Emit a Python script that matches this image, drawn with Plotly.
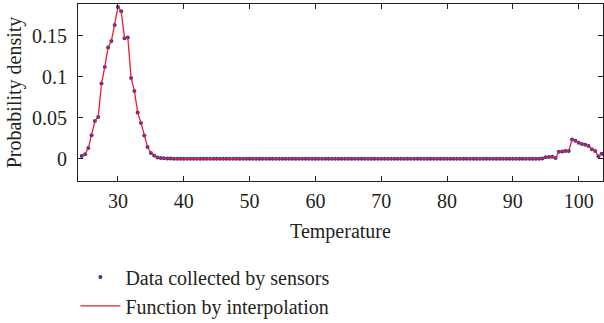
import plotly.graph_objects as go

temperature = [
    24.5, 25.0, 25.5, 26.0, 26.5, 27.0, 27.5, 28.0, 28.5, 29.0,
    29.5, 30.0, 30.5, 31.0, 31.5, 32.0, 32.5, 33.0, 33.5, 34.0,
    34.5, 35.0, 35.5, 36.0, 36.5, 37.0, 37.5, 38.0, 38.5, 39.0,
    39.5, 40.0, 40.5, 41.0, 41.5, 42.0, 42.5, 43.0, 43.5, 44.0,
    44.5, 45.0, 45.5, 46.0, 46.5, 47.0, 47.5, 48.0, 48.5, 49.0,
    49.5, 50.0, 50.5, 51.0, 51.5, 52.0, 52.5, 53.0, 53.5, 54.0,
    54.5, 55.0, 55.5, 56.0, 56.5, 57.0, 57.5, 58.0, 58.5, 59.0,
    59.5, 60.0, 60.5, 61.0, 61.5, 62.0, 62.5, 63.0, 63.5, 64.0,
    64.5, 65.0, 65.5, 66.0, 66.5, 67.0, 67.5, 68.0, 68.5, 69.0,
    69.5, 70.0, 70.5, 71.0, 71.5, 72.0, 72.5, 73.0, 73.5, 74.0,
    74.5, 75.0, 75.5, 76.0, 76.5, 77.0, 77.5, 78.0, 78.5, 79.0,
    79.5, 80.0, 80.5, 81.0, 81.5, 82.0, 82.5, 83.0, 83.5, 84.0,
    84.5, 85.0, 85.5, 86.0, 86.5, 87.0, 87.5, 88.0, 88.5, 89.0,
    89.5, 90.0, 90.5, 91.0, 91.5, 92.0, 92.5, 93.0, 93.5, 94.0,
    94.5, 95.0, 95.5, 96.0, 96.5, 97.0, 97.5, 98.0, 98.5, 99.0,
    99.5, 100.0, 100.5, 101.0, 101.5, 102.0, 102.5, 103.0, 103.5,
]

density = [
    # 24.5 - 36.0
    0.0034, 0.0055, 0.013, 0.0287, 0.046, 0.051, 0.0917, 0.112, 0.1356, 0.1437,
    0.163, 0.185, 0.180, 0.147, 0.148, 0.0985, 0.0827, 0.0563, 0.0437, 0.0283,
    0.0144, 0.007, 0.004, 0.0015,
    # 36.5 - 38.0
    0.001, 0.0007, 0.0004, 0.0002,
    # 38.5 - 94.5
    0, 0, 0, 0, 0, 0, 0, 0, 0, 0, 0, 0, 0, 0, 0, 0, 0, 0, 0, 0,
    0, 0, 0, 0, 0, 0, 0, 0, 0, 0, 0, 0, 0, 0, 0, 0, 0, 0, 0, 0,
    0, 0, 0, 0, 0, 0, 0, 0, 0, 0, 0, 0, 0, 0, 0, 0, 0, 0, 0, 0,
    0, 0, 0, 0, 0, 0, 0, 0, 0, 0, 0, 0, 0, 0, 0, 0, 0, 0, 0, 0,
    0, 0, 0, 0, 0, 0, 0, 0, 0, 0, 0, 0, 0, 0, 0, 0, 0, 0, 0, 0,
    0, 0, 0, 0, 0, 0, 0, 0, 0, 0, 0, 0, 0.0003,
    # 95.0 - 103.5
    0.002, 0.0022, 0.0025, 0.0008, 0.0085, 0.009, 0.0095, 0.0095, 0.0235, 0.022,
    0.0195, 0.018, 0.017, 0.0155, 0.0115, 0.0095, 0.003, 0.006,
]

x_tick_vals = [30, 40, 50, 60, 70, 80, 90, 100]
y_tick_vals = [0, 0.05, 0.1, 0.15]
y_tick_text = ["0", "0.05", "0.1", "0.15"]

FONT = "Liberation Serif, Times New Roman, DejaVu Serif, serif"
TXT = "#231f20"

fig = go.Figure()
fig.add_trace(go.Scatter(
    x=temperature, y=density, mode="markers",
    name="Data collected by sensors",
    marker=dict(color="#3f33a0", size=4),
))
fig.add_trace(go.Scatter(
    x=temperature, y=density, mode="lines",
    name="Function by interpolation",
    line=dict(color="#e8202a", width=1.3),
))

axis_common = dict(
    showline=True, linecolor="#231f20", linewidth=1.2, mirror="ticks",
    ticks="inside", ticklen=5, tickwidth=1.2, tickcolor="#231f20",
    showgrid=False, zeroline=False,
    tickfont=dict(family=FONT, size=20, color=TXT),
)

fig.update_layout(
    width=604, height=323,
    margin=dict(l=78, r=1, t=4, b=142),
    paper_bgcolor="white", plot_bgcolor="white",
    font=dict(family=FONT, size=20, color=TXT),
    showlegend=True,
    legend=dict(
        x=-0.005, xref="paper", y=0.203, yref="container",
        xanchor="left", yanchor="top",
        bgcolor="rgba(0,0,0,0)", borderwidth=0,
        itemwidth=40, font=dict(family=FONT, size=20, color=TXT),
        tracegroupgap=0,
    ),
    xaxis=dict(
        range=[23.93, 103.7], tickvals=x_tick_vals,
        title=dict(text="Temperature", standoff=12,
                   font=dict(family=FONT, size=20, color=TXT)),
        ticklabelstandoff=2,
        automargin=False,
        **axis_common,
    ),
    yaxis=dict(
        range=[-0.0271, 0.1887], tickvals=y_tick_vals, ticktext=y_tick_text,
        title=dict(text="Probability density", standoff=4,
                   font=dict(family=FONT, size=20, color=TXT)),
        ticklabelstandoff=6,
        automargin=False,
        **axis_common,
    ),
)

fig.write_html("out.html")
